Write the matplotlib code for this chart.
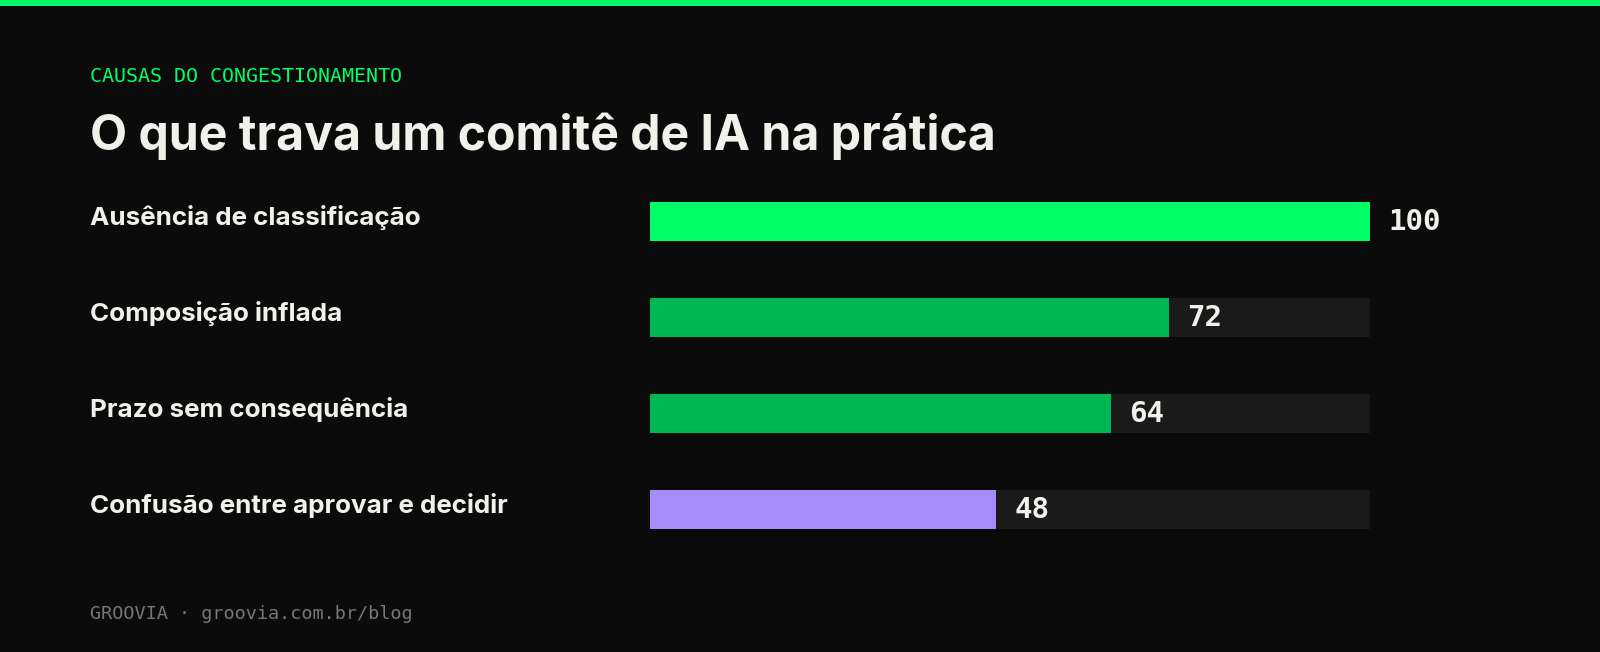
import matplotlib
matplotlib.use("Agg")
import matplotlib.pyplot as plt

# Dados do gráfico
categorias = ["Ausência de classificação", "Composição inflada",
              "Prazo sem consequência", "Confusão entre aprovar e decidir"]
valores = [100, 72, 64, 48]
cores = ["#00ff66", "#00b853", "#00b853", "#a78bfa"]
maximo = 100

BG = "#0b0b0b"
TRACK = "#1a1a1a"
TEXT = "#f2f0eb"

# medidas tiradas da imagem de referência (escala 1568x639)
W, H = 1568, 639
fig = plt.figure(figsize=(16, 6.52), dpi=100)
fig.patch.set_facecolor(BG)
px = 1600 / W  # pixels reais por pixel medido

# faixa verde no topo
fig.add_artist(plt.Rectangle((0, 1 - 6 / H), 1, 6 / H, transform=fig.transFigure,
                             color="#00ff66", lw=0))

fig.text(88 / W, 1 - 75 / H, "CAUSAS DO CONGESTIONAMENTO", color="#00ff66",
         family="DejaVu Sans Mono", fontsize=14.4, va="center", ha="left")
fig.text(88 / W, 1 - 134 / H, "O que trava um comitê de IA na prática", color=TEXT,
         family="Inter", weight="bold", fontsize=34.7, va="center", ha="left")
fig.text(88 / W, 1 - 602 / H, "GROOVIA · groovia.com.br/blog", color="#777777",
         family="DejaVu Sans Mono", fontsize=13.3, va="center", ha="left")

# eixo das barras
x0, x1 = 637, 1343
y_top, y_bot = 170, 546
ax = fig.add_axes([x0 / W, 1 - y_bot / H, (x1 - x0) / W, (y_bot - y_top) / H])
ax.set_facecolor("none")
ax.set_xlim(0, maximo)
ax.set_ylim(len(valores) - 0.5, -0.5)
ax.axis("off")

pos = range(len(valores))
altura = 38 / 94
ax.barh(pos, [maximo] * len(valores), height=altura, color=TRACK, lw=0)
ax.barh(pos, valores, height=altura, color=cores, lw=0)

for i, (cat, v) in enumerate(zip(categorias, valores)):
    ax.annotate(str(v), (v, i), xytext=(18 * px, -1 * px), textcoords="offset pixels",
                color=TEXT, family="DejaVu Sans Mono", weight="bold", fontsize=21,
                va="center", ha="left")
    ax.annotate(cat, (0, i), xycoords=("axes fraction", "data"),
                xytext=((88 - x0) * px, 4 * px), textcoords="offset pixels",
                color=TEXT, family="Inter", weight="bold", fontsize=18.7,
                va="center", ha="left")

fig.savefig("out.png", dpi=100, facecolor=BG)
